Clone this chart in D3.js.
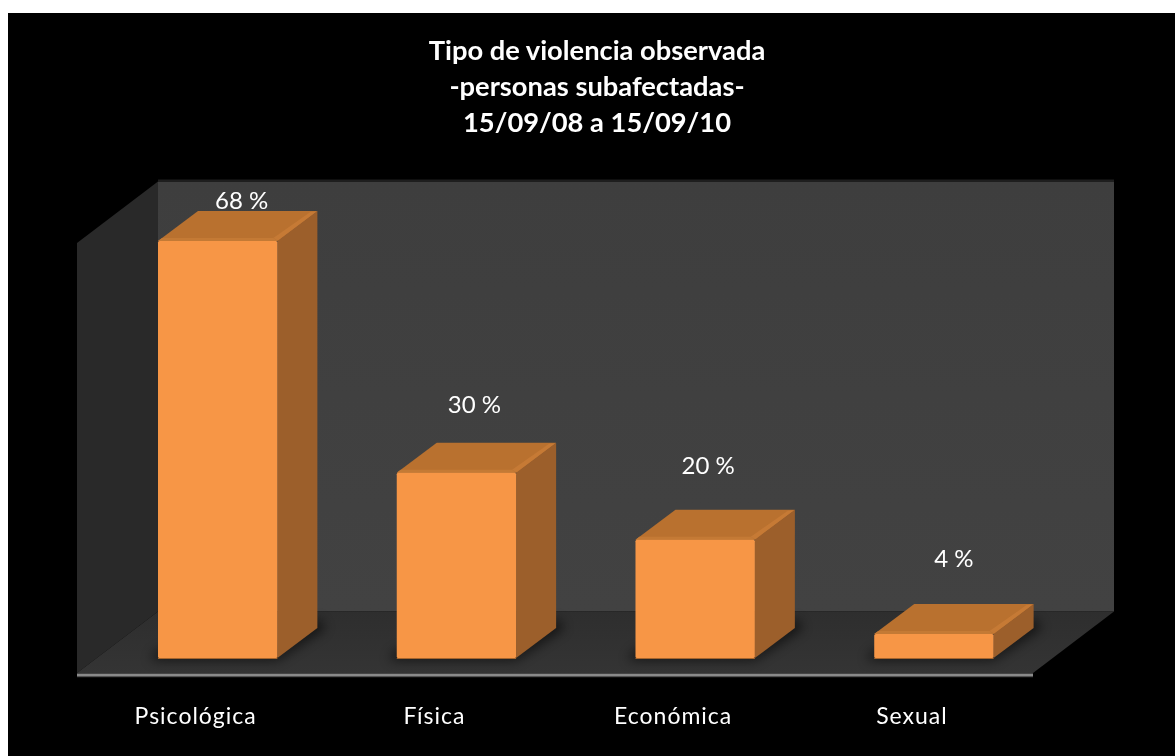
<!DOCTYPE html>
<html><head><meta charset="utf-8">
<script src="https://cdnjs.cloudflare.com/ajax/libs/d3/7.8.5/d3.min.js"></script>
<style>html,body{margin:0;padding:0;background:#fff}svg{display:block}</style>
</head><body><svg id="c" width="1175" height="756"></svg>
<script>
const categories = ["Psicológica","Física","Económica","Sexual"];
const plottedValues = [68,30.2,19.3,3.9];
const valueLabels = ["68 %","30 %","20 %","4 %"];
const titleLines = ["Tipo de violencia observada","-personas subafectadas-","15/09/08 a 15/09/10"];
const labelShiftX = [24,18,13,20];
const labelShiftY = [-2,-30,-36,-37];

const W=1175,H=756,font="Lato, Carlito, 'Open Sans', sans-serif";
const dx=40,dy=-30;
const wdx=81,wdy=-61.5;
const svg=d3.select("#c");
const x=d3.scaleBand().domain(categories).range([158,993.6]).paddingInner(0.5).paddingOuter(0);
const y=d3.scaleLinear().domain([0,68]).range([658,241]);
const poly=pts=>"M"+pts.map(p=>p.join(",")).join("L")+"Z";

const defs=svg.append("defs");
defs.append("filter").attr("id","sh").attr("x","-30%").attr("y","-30%").attr("width","160%").attr("height","160%")
  .append("feGaussianBlur").attr("stdDeviation",6);
defs.append("filter").attr("id","soft").attr("x","-5%").attr("y","-5%").attr("width","110%").attr("height","110%")
  .append("feGaussianBlur").attr("stdDeviation",0.45);
defs.append("filter").attr("id","edge").attr("x","-5%").attr("y","-5%").attr("width","110%").attr("height","110%")
  .append("feGaussianBlur").attr("stdDeviation",0.7);
const gf=defs.append("linearGradient").attr("id","floor").attr("x1",0).attr("x2",0).attr("y1",0).attr("y2",1);
gf.append("stop").attr("offset",0).attr("stop-color","#2e2e2e");
gf.append("stop").attr("offset",1).attr("stop-color","#343434");
const gw=defs.append("linearGradient").attr("id","wall").attr("x1",0).attr("x2",0).attr("y1",0).attr("y2",1);
gw.append("stop").attr("offset",0).attr("stop-color","#3e3e3e");
gw.append("stop").attr("offset",1).attr("stop-color","#424242");

svg.append("rect").attr("x",8).attr("y",13).attr("width",W-8).attr("height",H-13).attr("fill","#000");

const fl=77,fr=1033,fb=673,wt=243;
svg.append("path").attr("d",poly([[fl+wdx,wt+wdy],[fr+wdx,wt+wdy],[fr+wdx,fb+wdy],[fl+wdx,fb+wdy]])).attr("fill","url(#wall)");
svg.append("path").attr("d",`M${fl+wdx},${wt+wdy-1}H${fr+wdx}`).attr("stroke","#1e1e1e").attr("stroke-width",2);
svg.append("path").attr("d",poly([[fl,wt],[fl+wdx,wt+wdy],[fl+wdx,fb+wdy],[fl,fb]])).attr("fill","#292929");
svg.append("path").attr("d",poly([[fl,fb],[fr,fb],[fr+wdx,fb+wdy],[fl+wdx,fb+wdy]])).attr("fill","url(#floor)");
svg.append("path").attr("d",`M${fl},${fb+2}H${fr}`).attr("stroke","#8a8a8a").attr("stroke-width",3);
svg.append("path").attr("d",`M${fl},${fb+3.7}H${fr}`).attr("stroke","#555").attr("stroke-width",1);

const rows=categories.map((c,i)=>({c,v:plottedValues[i],label:valueLabels[i]}));
const g=svg.selectAll("g.bar").data(rows).join("g").attr("class","bar");
const bw=x.bandwidth();
g.append("path").attr("filter","url(#sh)").attr("fill","#000").attr("opacity",.62)
  .attr("d",d=>{const l=x(d.c),r=l+bw,b=y(0);return poly([[l-8,b+2],[r,b+2],[r+dx+8,b+dy],[r+dx,b+dy-10],[r,b-8],[l,b-8]]);});
g.append("path").attr("fill","#b9712f")
  .attr("d",d=>{const l=x(d.c),r=l+bw,t=y(d.v);return poly([[l,t],[l+dx,t+dy],[r+dx,t+dy],[r,t]]);});
g.append("path").attr("fill","#c67a36").attr("filter","url(#edge)")
  .attr("d",d=>{const l=x(d.c),t=y(d.v),r=l+bw;return poly([[r-4,t-3],[r+dx-7,t+dy+1],[r+dx,t+dy+.5],[r+1,t]]);});
g.append("path").attr("fill","#c47a36").attr("filter","url(#edge)")
  .attr("d",d=>{const l=x(d.c),t=y(d.v),r=l+bw;return poly([[l,t],[l+4,t-3],[r-4,t-3],[r,t]]);});
g.append("path").attr("fill","#9c5f2b")
  .attr("d",d=>{const l=x(d.c),r=l+bw,t=y(d.v),b=y(0);return poly([[r,t],[r+dx,t+dy],[r+dx,b+dy],[r,b]]);});
g.append("rect").attr("fill","#f79646").attr("rx",1.5)
  .attr("x",d=>x(d.c)).attr("y",d=>y(d.v)).attr("width",bw).attr("height",d=>y(0)-y(d.v));
g.append("path").attr("stroke","#a5642c").attr("fill","none").attr("stroke-width",1)
  .attr("d",d=>`M${x(d.c)},${y(0)+.5}H${x(d.c)+bw}`);

svg.selectAll("text.val").data(rows).join("text").attr("class","val")
  .attr("x",(d,i)=>x(d.c)+bw/2+labelShiftX[i])
  .attr("y",(d,i)=>y(d.v)+dy+labelShiftY[i])
  .attr("text-anchor","middle").attr("fill","#fff").attr("font-family",font).attr("font-size",24)
  .attr("filter","url(#soft)").text(d=>d.label);

svg.selectAll("text.cat").data(categories).join("text").attr("class","cat")
  .attr("x",d=>x(d)+bw/2-22).attr("y",724).attr("text-anchor","middle")
  .attr("fill","#fff").attr("font-family",font).attr("font-size",23).attr("letter-spacing",1)
  .attr("filter","url(#soft)").text(d=>d);

svg.selectAll("text.t").data(titleLines).join("text").attr("class","t")
  .attr("x",597).attr("y",(d,i)=>60+36*i).attr("text-anchor","middle")
  .attr("fill","#fff").attr("font-family",font).attr("font-weight",700).attr("font-size",27.3)
  .attr("filter","url(#soft)").text(d=>d);
</script></body></html>
